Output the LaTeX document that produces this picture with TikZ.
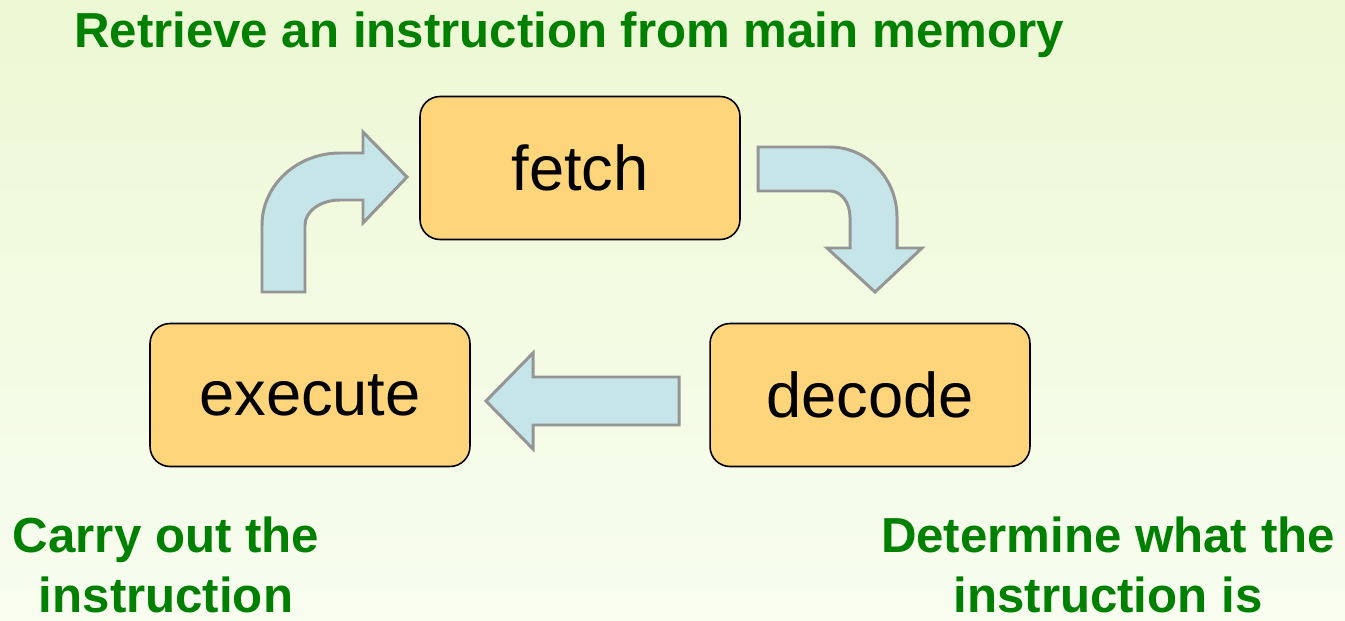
\documentclass[tikz,border=0pt]{standalone}
\usepackage{fontspec}
\setmainfont{Liberation Sans}
\usepackage{tikz}
\usetikzlibrary{shapes,arrows}
\usetikzlibrary{positioning}

\definecolor{bgtop}{HTML}{EDF8D4}
\definecolor{bgbtm}{HTML}{F8FDF0}
\definecolor{boxfill}{HTML}{FFD57C}
\definecolor{arrfill}{HTML}{C5E5E8}
\definecolor{arredge}{HTML}{959595}
\definecolor{notegreen}{RGB}{0,128,0}

\begin{document}
\begin{tikzpicture}[x=0.02cm, y=0.02cm,
	stage/.style={draw=black, line width=0.9pt, fill=boxfill, rounded corners=0.4cm,
		minimum width=6.4cm, minimum height=2.86cm, font=\fontsize{36}{40}\selectfont},
	note/.style={text=notegreen, align=center, font=\fontsize{28}{34}\selectfont\bfseries},
	fatarrow/.style={draw=arredge, line width=1.7pt, fill=arrfill, line join=miter}
	]

	% background
	\shade[top color=bgtop, bottom color=bgbtm] (0,0) rectangle (1345,620);
	\useasboundingbox (0,0) rectangle (1345,620);

	\node[stage] (fetch) at (580,452) {fetch};
	\node[stage] (execute) at (310,225) {execute};
	\node[stage] (decode) at (870,225) {decode};

	\node[note] (ttl) at (569,585) {Retrieve an instruction from main memory};
	\node[note] (exnote) at (166,55) {Carry out the\\instruction};
	\node[note] (denote) at (1108,55) {Determine what the\\instruction is};

	% execute -> fetch
	\filldraw[fatarrow]
	(262,328) -- (262,395)
		arc[start angle=180, end angle=90, x radius=78, y radius=72]
		-- (363,467) -- (363,488) -- (407,443) -- (363,397) -- (363,420) -- (340,420)
		arc[start angle=90, end angle=180, x radius=35, y radius=25]
		-- (305,328) -- cycle;

	% fetch -> decode
	\filldraw[fatarrow]
	(758,473) -- (830,473)
		arc[start angle=90, end angle=0, x radius=67, y radius=70]
		-- (897,372) -- (922,372) -- (875,328) -- (827,372) -- (850,372) -- (850,403)
		arc[start angle=0, end angle=90, x radius=20, y radius=26]
		-- (758,429) -- cycle;

	% decode -> execute
	\filldraw[fatarrow]
	(679,243) -- (533,243) -- (533,267) -- (486,219) -- (533,171) -- (533,195) -- (679,195) -- cycle;

\end{tikzpicture}
\end{document}
